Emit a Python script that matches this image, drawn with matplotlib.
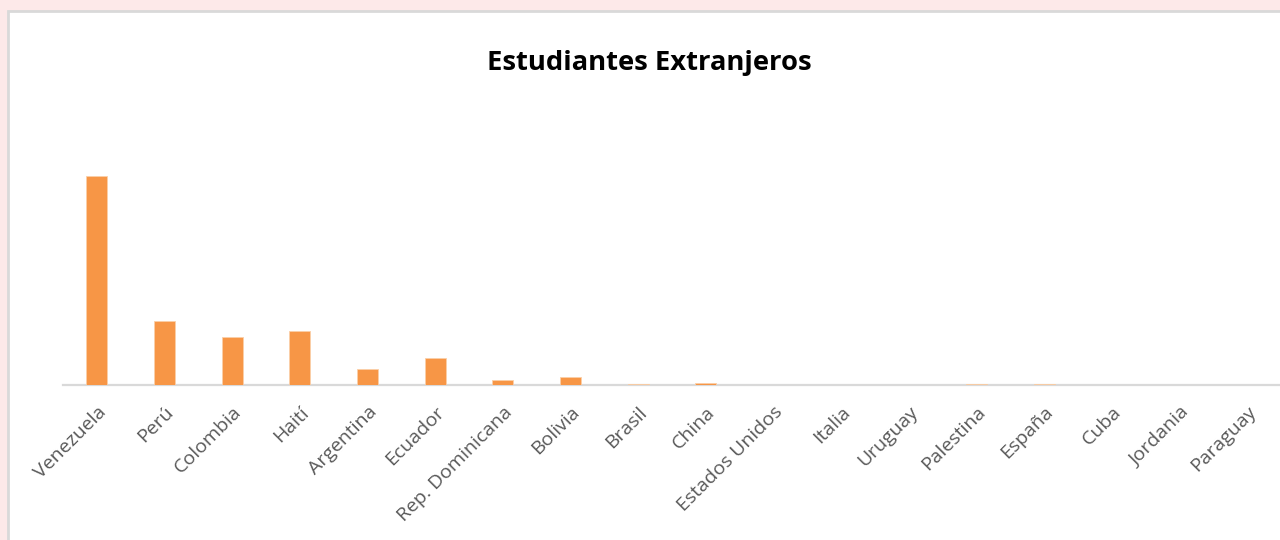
import matplotlib
matplotlib.use("Agg")
import matplotlib.pyplot as plt
from matplotlib.patches import Rectangle

categories = ["Venezuela", "Perú", "Colombia", "Haití", "Argentina", "Ecuador",
              "Rep. Dominicana", "Bolivia", "Brasil", "China", "Estados Unidos",
              "Italia", "Uruguay", "Palestina", "España", "Cuba", "Jordania", "Paraguay"]
values = [1045, 320, 240, 270, 80, 135, 25, 40, 3, 10, 0, 0, 0, 3, 3, 0, 0, 0]
title = "Estudiantes Extranjeros"

W, H = 1280, 540
fig = plt.figure(figsize=(W / 100, H / 100), dpi=100)
fig.patch.set_facecolor("#fde9e9")

# chart area (white, gray border)
fig.patches.append(Rectangle((8 / W, -0.02), 1.1, (H - 11) / H + 0.02,
                             transform=fig.transFigure, facecolor="white",
                             edgecolor="#d9d9d9", linewidth=2, zorder=-10))

ax = fig.add_axes([63 / W, 155 / H, 1.0 - 63 / W + 0.0008, 285 / H])
ax.set_zorder(5)
ax.set_facecolor("none")
x = list(range(len(categories)))
ax.bar(x, values, width=0.31, color="#f79646", edgecolor="#fbcfa8", linewidth=0.6, zorder=3)
ax.set_xlim(-0.5, len(categories) - 0.5)
ax.set_ylim(0, 1425)

for s in ["top", "right", "left"]:
    ax.spines[s].set_visible(False)
ax.spines["bottom"].set_color("#d9d9d9")
ax.spines["bottom"].set_linewidth(1.6)
ax.set_yticks([])
ax.set_xticks(x)
ax.set_xticklabels(categories, rotation=45, ha="right", va="top",
                   rotation_mode="anchor", fontsize=14, color="#595959",
                   family="Open Sans")
ax.tick_params(axis="x", length=0, pad=13)

fig.text(649 / W, 1 - 63 / H, title, ha="center", va="center",
         fontsize=19.7, fontweight="bold", color="black", family="Open Sans")

fig.savefig("out.png", dpi=100, facecolor=fig.get_facecolor())
